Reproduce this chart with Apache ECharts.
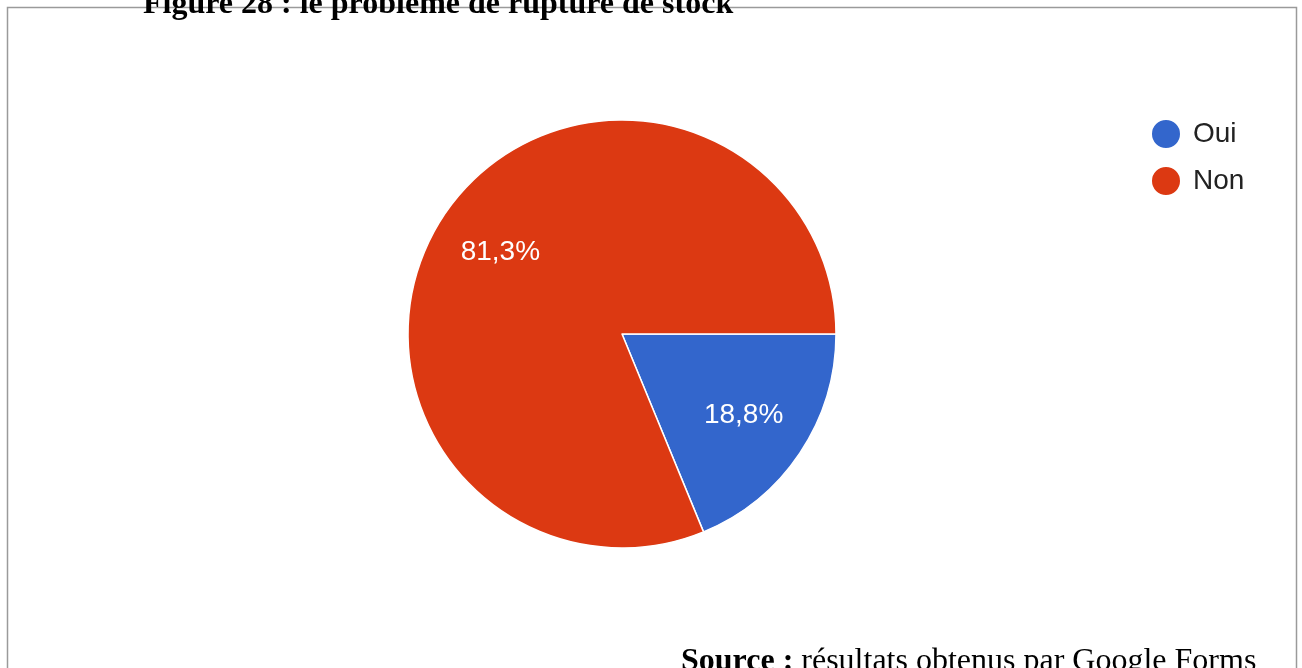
<!DOCTYPE html>
<html>
<head>
<meta charset="utf-8">
<script src="https://cdn.jsdelivr.net/npm/echarts@6/dist/echarts.min.js"></script>
<style>
  html, body { margin: 0; padding: 0; background: #fff; }
  #chart { width: 1302px; height: 668px; }
</style>
</head>
<body>
<div id="chart"></div>
<script>
// Survey answers: "stock-out problem"
const categories = ['Oui', 'Non'];
const shares = [18.8, 81.3];
const sliceColors = ['#3366cc', '#dc3912'];

const pieData = categories.map((name, i) => ({
  name: name,
  value: shares[i],
  itemStyle: { color: sliceColors[i] }
}));

const centre = [622, 334];
const R = 214;
const SANS = '"Liberation Sans", Arial, sans-serif';
const SERIF = '"Liberation Serif", "Times New Roman", serif';

const chart = echarts.init(document.getElementById('chart'), null, { renderer: 'canvas' });

chart.setOption({
  animation: false,
  backgroundColor: '#ffffff',
  graphic: [
    {
      type: 'rect',
      z: 0,
      shape: { x: 7.5, y: 7.5, width: 1289, height: 720 },
      style: { fill: 'none', stroke: '#9a9a9a', lineWidth: 1.5 }
    },
    {
      type: 'text',
      z: 10,
      left: 143,
      top: -11,
      style: {
        text: 'Figure 28 : le problème de rupture de stock',
        font: 'bold 32px ' + SERIF,
        fill: '#000'
      }
    },
    {
      type: 'text',
      z: 10,
      left: 681,
      top: 646,
      style: {
        text: '{b|Source :} résultats obtenus par Google Forms',
        font: '32px ' + SERIF,
        fill: '#000',
        rich: {
          b: { font: 'bold 32px ' + SERIF, fill: '#000' }
        }
      }
    }
  ],
  legend: {
    orient: 'vertical',
    left: 1145,
    top: 113,
    icon: 'circle',
    itemWidth: 30,
    itemHeight: 30,
    itemGap: 15,
    data: categories,
    textStyle: {
      fontFamily: SANS,
      fontSize: 28,
      color: '#222',
      padding: [0, 0, 0, 7]
    }
  },
  series: [
    {
      name: 'Réponses',
      type: 'pie',
      center: centre,
      radius: [0, R],
      startAngle: 0,
      clockwise: true,
      avoidLabelOverlap: false,
      itemStyle: { borderColor: '#ffffff', borderWidth: 1.5 },
      label: { show: false },
      labelLine: { show: false },
      emphasis: { disabled: true },
      data: pieData
    },
    {
      // transparent ring used only to place the percentage labels at ~2/3 radius
      name: 'labels',
      type: 'pie',
      center: centre,
      radius: [R * 0.34, R],
      startAngle: 0,
      clockwise: true,
      silent: true,
      z: 5,
      avoidLabelOverlap: false,
      itemStyle: { color: 'rgba(0,0,0,0)', borderWidth: 0 },
      label: {
        show: true,
        position: 'inside',
        color: '#ffffff',
        fontFamily: SANS,
        fontSize: 28,
        formatter: p => p.value.toFixed(1).replace('.', ',') + '%'
      },
      labelLine: { show: false },
      emphasis: { disabled: true },
      data: categories.map((name, i) => ({ name: name, value: shares[i] }))
    }
  ]
});
</script>
</body>
</html>
